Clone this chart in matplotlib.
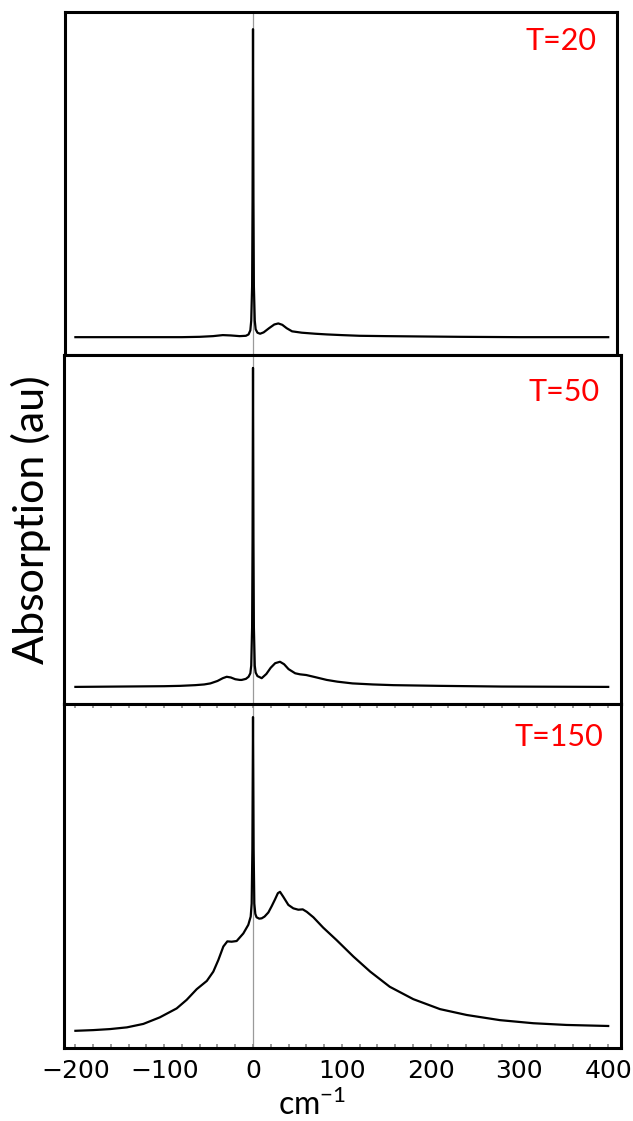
import matplotlib
matplotlib.use("Agg")
import matplotlib.pyplot as plt
from matplotlib.ticker import MultipleLocator

plt.rcParams['font.family'] = ['DejaVu Sans']
plt.rcParams['mathtext.fontset'] = 'custom'
plt.rcParams['mathtext.rm'] = 'Lato'
plt.rcParams['mathtext.it'] = 'Lato'

# ---------------- data (y in panel-relative units) ----
temps = ["T=20", "T=50", "T=150"]

x_t20 = [-200, -150, -100, -80, -60, -45, -34, -25, -15, -8, -5, -3, -2, -1,
         -0.5, 0, 0.5, 1, 2, 3, 5, 8, 12, 18, 24, 28.5, 33, 38, 44, 55, 70,
         83, 100, 120, 150, 190, 233, 300, 400]
y_t20 = [0.052, 0.052, 0.052, 0.052, 0.053, 0.055, 0.058, 0.057, 0.055, 0.056,
         0.060, 0.072, 0.10, 0.20, 0.45, 0.95, 0.45, 0.20, 0.10, 0.075, 0.065,
         0.062, 0.066, 0.078, 0.089, 0.092, 0.088, 0.078, 0.069, 0.065, 0.062,
         0.060, 0.058, 0.056, 0.055, 0.054, 0.053, 0.052, 0.052]

x_t50 = [-200, -150, -100, -82, -65, -55, -48, -40, -34, -29.6, -25, -20, -15,
         -12.7, -8, -5, -3, -2, -1, -0.5, 0, 0.5, 1, 2, 3, 5, 9.8, 15, 20, 25,
         30.4, 35, 40, 47.5, 53, 60, 70, 83, 95, 112, 135, 158, 210, 280, 400]
y_t50 = [0.049, 0.050, 0.051, 0.052, 0.054, 0.056, 0.059, 0.066, 0.074, 0.078,
         0.076, 0.071, 0.069, 0.069, 0.072, 0.078, 0.088, 0.11, 0.22, 0.47,
         0.963, 0.47, 0.22, 0.11, 0.090, 0.080, 0.074, 0.086, 0.104, 0.117,
         0.121, 0.114, 0.100, 0.088, 0.085, 0.083, 0.077, 0.069, 0.064, 0.059,
         0.056, 0.054, 0.052, 0.050, 0.049]

x_t150 = [-200, -180, -161, -142, -123.5, -105, -86, -74.7, -63.4, -52, -44.7,
          -39, -33.4, -28.9, -24, -18.4, -10.9, -5.3, -2.6, -1.5, -0.7, 0,
          0.7, 1.5, 2.6, 4, 7, 9.8, 13, 17.3, 21, 24.8, 28, 30.4, 34, 39.8,
          45.4, 51, 56, 60.5, 68, 79, 94, 113, 132, 154, 180.5, 210.6, 240.6,
          278, 315.7, 353, 400]
y_t150 = [0.050, 0.052, 0.055, 0.060, 0.070, 0.089, 0.115, 0.140, 0.171, 0.195,
          0.222, 0.256, 0.295, 0.310, 0.309, 0.311, 0.333, 0.358, 0.382, 0.42,
          0.58, 0.962, 0.58, 0.42, 0.39, 0.380, 0.376, 0.377, 0.382, 0.394,
          0.412, 0.432, 0.450, 0.454, 0.440, 0.416, 0.406, 0.402, 0.403, 0.396,
          0.380, 0.350, 0.314, 0.266, 0.222, 0.178, 0.142, 0.113, 0.096,
          0.081, 0.072, 0.067, 0.064]

xticks = [-200, -100, 0, 100, 200, 300, 400]
xtick_labels = ["\u2212200", "\u2212100", "0", "100", "200", "300", "400"]

series = [(x_t20, y_t20), (x_t50, y_t50), (x_t150, y_t150)]

# ---------------- layout ----------------------------------------------------
W, H = 633, 1121
fig = plt.figure(figsize=(W / 100, H / 100), dpi=100)

# pixel boxes (left, right, top, bottom) of the three panels
boxes = [(65, 617, 12, 355), (64, 621, 355, 704), (64, 621, 704, 1048)]
label_pos = [(596, 41), (600, 392), (603, 737)]
x0_px, px_per_unit = 253.0, 0.888

for i, ((l, r, t, b), (xs, ys), lab, (lx, ly)) in enumerate(
        zip(boxes, series, temps, label_pos)):
    ax = fig.add_axes([l / W, 1 - b / H, (r - l) / W, (b - t) / H])
    ax.set_xlim((l - x0_px) / px_per_unit, (r - x0_px) / px_per_unit)
    ax.set_ylim(0, 1)
    ax.axvline(0, color='#9a9a9a', lw=0.9, zorder=1)
    ax.plot(xs, ys, color='black', lw=1.6, zorder=2, solid_joinstyle='round')
    for s in ax.spines.values():
        s.set_linewidth(2.2)
        s.set_color('black')
    ax.set_yticks([])
    fig.text(lx / W, 1 - ly / H, lab, color='#ff0000', fontsize=22,
             family='Lato', ha='right', va='center')
    if i < 2:
        ax.set_xticks([])
    else:
        ax.set_xticks(xticks)
        ax.set_xticklabels(xtick_labels)
        ax.xaxis.set_minor_locator(MultipleLocator(20))
        ax.tick_params(axis='x', which='both', direction='in', top=True,
                       bottom=True, color='#8a8a8a', length=3, width=1.2,
                       labelsize=18, pad=8)

fig.text(31 / W, 1 - 520 / H, "Absorption (au)", rotation=90, fontsize=31,
         family='Lato', ha='center', va='center')
fig.text(312 / W, 1 - 1105 / H, "cm$^{-1}$", fontsize=23, family='Lato',
         ha='center', va='center')

fig.savefig("out.png", dpi=100)
